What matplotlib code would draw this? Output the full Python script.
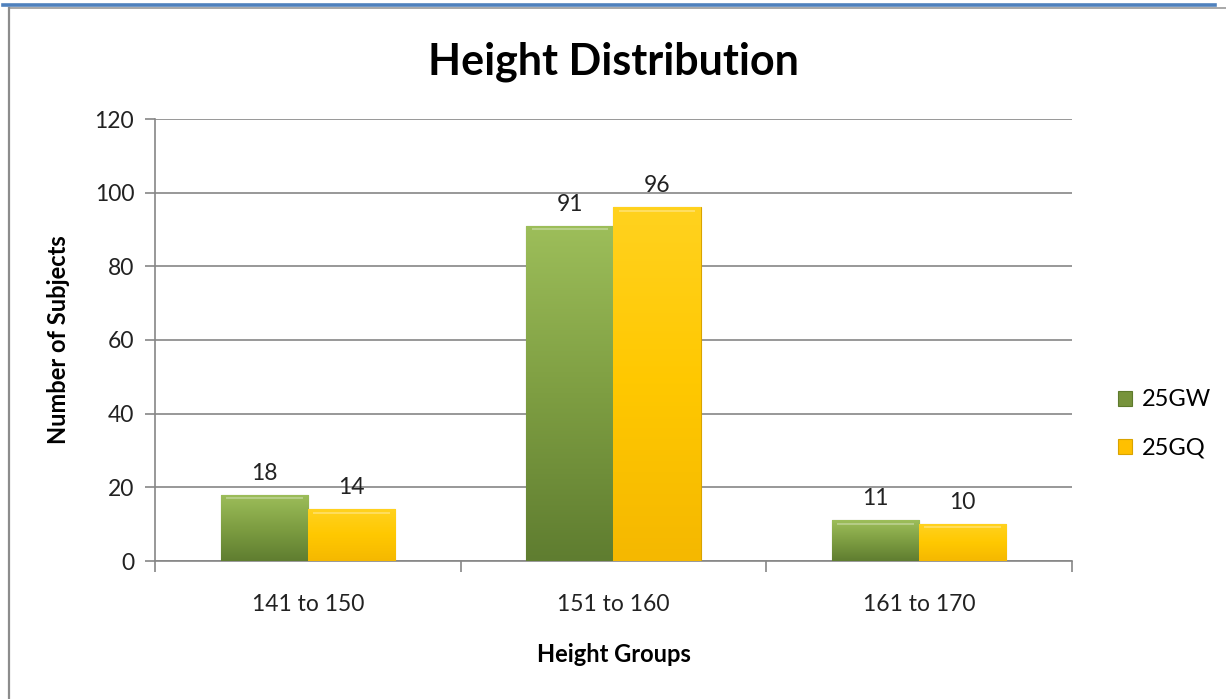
import matplotlib
matplotlib.use("Agg")
import matplotlib.pyplot as plt
import numpy as np
from matplotlib.lines import Line2D
from matplotlib.colors import LinearSegmentedColormap

categories = ["141 to 150", "151 to 160", "161 to 170"]
series_names = ["25GW", "25GQ"]
gw_values = [18, 91, 11]
gq_values = [14, 96, 10]
y_ticks = [0, 20, 40, 60, 80, 100, 120]

plt.rcParams['font.family'] = ['Lato', 'DejaVu Sans']

fig = plt.figure(figsize=(12.26, 6.99), dpi=100)
fig.patch.set_facecolor("white")

# page decorations: blue top bar, gray shadow, left border
fig.add_artist(Line2D([3/1226, 1215/1226], [1-4.5/699, 1-4.5/699], color="#4F81BD", lw=2.6))
fig.add_artist(Line2D([10/1226, 1226/1226], [1-7.5/699, 1-7.5/699], color="#9A9A9A", lw=1.2))
fig.add_artist(Line2D([9/1226, 9/1226], [1-8/699, 0], color="#8C8C8C", lw=1.6))

ax = fig.add_axes([155/1226, 1-561/699, (1072-155)/1226, (561-119)/699])

x = np.arange(len(categories))
w = 0.285
green_bars = ax.bar(x - w/2, gw_values, w, color="#77933C", edgecolor="#5E7A2C", lw=0.8, label=series_names[0], zorder=3)
yellow_bars = ax.bar(x + w/2, gq_values, w, color="#FFC000", edgecolor="#D9A300", lw=0.8, label=series_names[1], zorder=3)

green_cmap = LinearSegmentedColormap.from_list("g", ["#9DBE5A", "#7E9E42", "#5F7D30"])
yellow_cmap = LinearSegmentedColormap.from_list("y", ["#FFD21F", "#FFC800", "#F5B800"])
grad = np.linspace(0, 1, 256).reshape(-1, 1)
for bars, cmap in ((green_bars, green_cmap), (yellow_bars, yellow_cmap)):
    for b in bars:
        x0, y0 = b.get_x(), b.get_y()
        bw, bh = b.get_width(), b.get_height()
        im = ax.imshow(grad, cmap=cmap, aspect="auto", extent=[x0, x0 + bw, y0, y0 + bh],
                       origin="upper", zorder=3.5)
        im.set_clip_path(b)
        ax.plot([x0 + bw*0.06, x0 + bw*0.94], [y0 + bh - 0.9, y0 + bh - 0.9],
                color="white", alpha=0.35, lw=1.2, zorder=4, solid_capstyle="butt")

for bars, vals in ((green_bars, gw_values), (yellow_bars, gq_values)):
    for b, v in zip(bars, vals):
        ax.annotate(str(v), (b.get_x() + b.get_width()/2, v), xytext=(0, 8),
                    textcoords="offset points", ha="center", va="bottom",
                    fontsize=16.5, color="#222222", zorder=5)

ax.set_xlim(-0.5, len(categories) - 0.5)
ax.set_ylim(0, 120)
ax.set_yticks(y_ticks)
ax.set_yticklabels([str(t) for t in y_ticks], fontsize=16.5, color="#222222")
ax.set_xticks(x)
ax.set_xticklabels(categories, fontsize=16.5, color="#222222")
ax.tick_params(axis="x", length=0, pad=24)
ax.set_xticks(np.arange(-0.5, len(categories)), minor=True)
ax.tick_params(axis="x", which="minor", length=8, color="#868686", width=1.2)
ax.tick_params(axis="y", length=7, color="#868686", width=1.2, pad=8)

ax.grid(axis="y", color="#868686", lw=1.2, zorder=0)
ax.set_axisbelow(True)
for s in ("top", "right"):
    ax.spines[s].set_visible(False)
for s in ("left", "bottom"):
    ax.spines[s].set_color("#868686")
    ax.spines[s].set_linewidth(1.2)

ax.set_title("Height Distribution", fontsize=31, fontweight="bold", pad=32, color="black")
ax.set_ylabel("Number of Subjects", fontsize=17, fontweight="bold", labelpad=18)
ax.set_xlabel("Height Groups", fontsize=17, fontweight="bold", labelpad=20)

leg = ax.legend(loc="center left", bbox_to_anchor=(1.05, 0.31), frameon=False,
                fontsize=17, handlelength=0.6, handleheight=0.6, labelspacing=1.15,
                handletextpad=0.4, borderpad=0, borderaxespad=0)

fig.savefig("out.png", dpi=100, facecolor="white")
